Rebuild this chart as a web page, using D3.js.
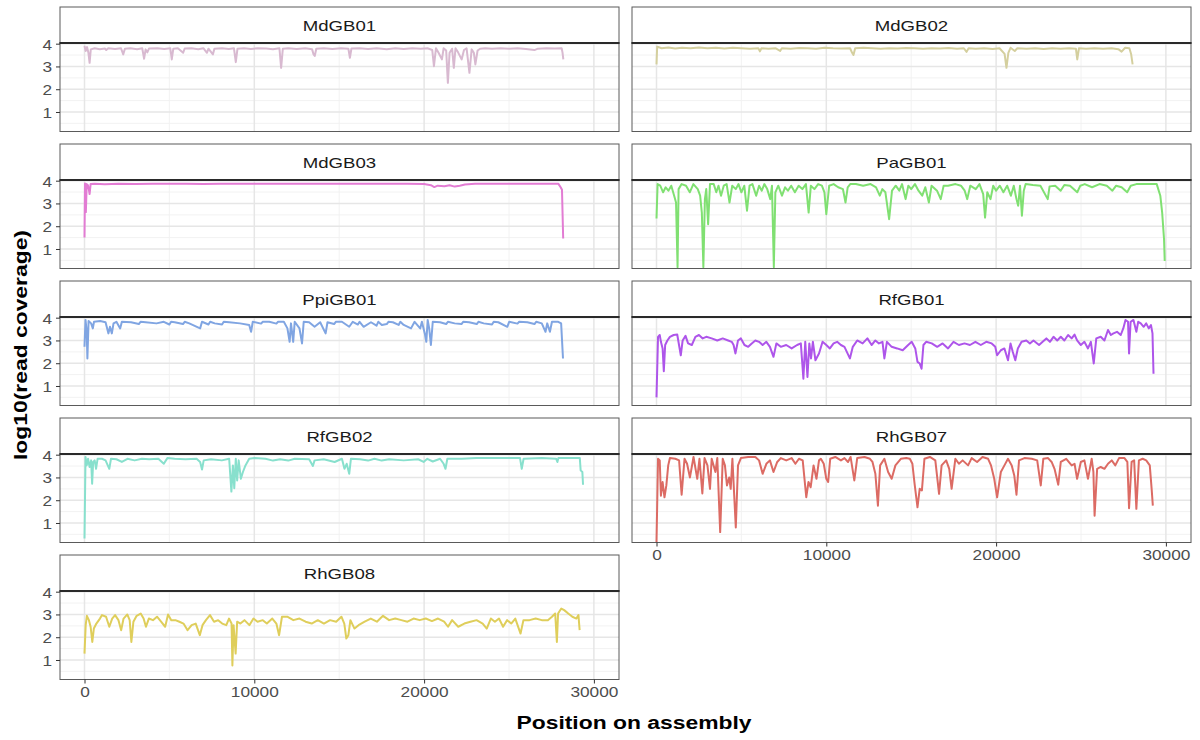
<!DOCTYPE html>
<html>
<head>
<meta charset="utf-8">
<script src="https://cdn.jsdelivr.net/npm/d3@7"></script>
<style>
  html, body { margin: 0; padding: 0; background: #ffffff; }
  svg { display: block; font-family: "Liberation Sans", Arial, Helvetica, sans-serif; }
</style>
</head>
<body>
<svg id="chart" width="1200" height="740"></svg>
<script>
// ---------------- DATA (position on assembly, log10(read coverage)) ----------------
const facetNames = ["MdGB01","MdGB02","MdGB03","PaGB01","PpiGB01","RfGB01","RfGB02","RhGB07","RhGB08"];
const facetColors = ["#D8B9D0","#D4CF9E","#E27CD3","#80E072","#80A5E2","#AE55EA","#88E0CD","#DC6B64","#DFCE5B"];
const yTicks = [1, 2, 3, 4];
const xTicks = [0, 10000, 20000, 30000];
const yMinorTicks = [0.5, 1.5, 2.5, 3.5];
const xMinorTicks = [5000, 15000, 25000];

const MdGB01 = [[0,3.9],[70,3.68],[150,3.85],[230,3.6],[300,3.16],[370,3.75],[600,3.8],[900,3.76],[1200,3.79],[1280,3.72],[1400,3.8],[1800,3.77],[2150,3.8],[2280,3.53],[2380,3.78],[2700,3.8],[3100,3.76],[3400,3.8],[3510,3.34],[3600,3.75],[3700,3.62],[3800,3.79],[4300,3.8],[4700,3.77],[5050,3.8],[5140,3.31],[5230,3.78],[5500,3.8],[5810,3.6],[5900,3.79],[6300,3.8],[6700,3.76],[7000,3.8],[7210,3.6],[7300,3.78],[7560,3.53],[7650,3.78],[8100,3.8],[8500,3.77],[8800,3.8],[8910,3.19],[9010,3.78],[9400,3.8],[9800,3.77],[10200,3.8],[10700,3.79],[11100,3.76],[11480,3.8],[11580,2.94],[11680,3.78],[12000,3.8],[12500,3.77],[13000,3.8],[13400,3.76],[13490,3.53],[13560,3.46],[13650,3.78],[14100,3.8],[14600,3.77],[15100,3.8],[15540,3.78],[15630,3.38],[15720,3.79],[16200,3.8],[16700,3.77],[17200,3.8],[17800,3.76],[18300,3.8],[18800,3.77],[19300,3.8],[19800,3.78],[20200,3.8],[20480,3.72],[20580,3.01],[20700,3.8],[20850,3.6],[21050,3.31],[21150,3.8],[21300,3.7],[21400,2.28],[21500,3.6],[21650,3.78],[21750,2.94],[21850,3.8],[22000,3.62],[22210,3.31],[22350,3.72],[22500,3.8],[22670,2.72],[22800,3.75],[22930,3.6],[23020,3.09],[23150,3.7],[23300,3.78],[23600,3.8],[24000,3.78],[24500,3.8],[25000,3.78],[25500,3.8],[26000,3.77],[26500,3.72],[26700,3.78],[27200,3.8],[27700,3.79],[28100,3.8],[28150,3.62],[28200,3.31]];

const MdGB02 = [[0,3.09],[40,3.87],[300,3.8],[700,3.83],[1100,3.79],[1500,3.82],[2000,3.8],[2500,3.83],[3000,3.8],[3500,3.82],[4000,3.79],[4500,3.82],[5000,3.8],[5500,3.78],[6000,3.8],[6090,3.66],[6180,3.8],[6600,3.78],[7000,3.8],[7280,3.68],[7380,3.8],[7900,3.78],[8400,3.81],[8900,3.8],[9400,3.78],[9900,3.82],[10400,3.8],[10900,3.79],[11400,3.8],[11520,3.6],[11600,3.5],[11700,3.8],[12200,3.82],[12700,3.8],[13200,3.78],[13700,3.8],[14200,3.79],[14700,3.81],[15200,3.8],[15700,3.78],[16200,3.8],[16700,3.79],[17200,3.81],[17700,3.78],[18100,3.8],[18260,3.64],[18380,3.8],[18800,3.78],[19300,3.8],[19800,3.77],[20200,3.8],[20500,3.55],[20610,2.94],[20720,3.6],[20850,3.82],[21100,3.68],[21250,3.8],[21800,3.78],[22300,3.8],[22800,3.77],[23300,3.8],[23800,3.78],[24300,3.8],[24700,3.78],[24780,3.31],[24880,3.8],[25300,3.78],[25800,3.8],[26300,3.78],[26800,3.8],[27200,3.76],[27390,3.65],[27600,3.82],[27850,3.8],[27950,3.55],[28040,3.09]];

const MdGB03 = [[0,1.5],[30,3.88],[80,2.62],[130,3.85],[200,3.8],[260,3.6],[300,3.41],[360,3.85],[600,3.86],[1200,3.84],[2000,3.87],[3000,3.85],[4000,3.87],[5000,3.86],[6000,3.87],[7000,3.85],[8000,3.87],[9000,3.86],[10000,3.87],[11000,3.86],[12000,3.87],[13000,3.86],[14000,3.87],[15000,3.86],[16000,3.87],[17000,3.86],[18000,3.87],[19000,3.86],[20000,3.85],[20400,3.8],[20600,3.72],[20800,3.78],[21200,3.76],[21500,3.8],[21800,3.74],[22100,3.78],[22400,3.83],[23000,3.86],[24000,3.87],[25000,3.86],[26000,3.87],[27000,3.86],[27900,3.87],[28050,3.7],[28120,3.6],[28190,1.46]];

const PaGB01 = [[0,2.34],[65,3.85],[220,3.78],[390,3.49],[540,3.71],[700,3.56],[870,3.78],[1040,3.34],[1150,3.04],[1240,0.2],[1300,3.63],[1480,3.85],[1740,3.78],[1960,3.49],[2170,3.85],[2430,3.63],[2570,3.34],[2670,2.6],[2760,0.2],[2850,3.19],[2930,3.63],[3040,2.09],[3150,3.85],[3370,3.85],[3520,3.49],[3650,3.78],[3800,3.34],[3960,3.78],[4130,3.85],[4300,3.04],[4460,3.78],[4670,3.63],[4830,3.85],[5000,3.49],[5170,3.78],[5330,2.68],[5480,3.78],[5650,3.85],[5870,3.34],[6040,3.78],[6200,3.56],[6350,3.85],[6520,3.63],[6700,3.19],[6800,3.78],[6910,0.2],[7000,3.49],[7170,3.78],[7390,3.34],[7570,3.71],[7740,3.56],[7930,3.78],[8150,3.49],[8370,3.78],[8590,3.63],[8800,3.85],[8960,2.6],[9090,3.78],[9300,3.63],[9520,3.85],[9740,3.78],[9890,3.49],[10000,2.53],[10170,3.78],[10430,3.85],[10700,3.71],[10980,3.63],[11130,3.04],[11260,3.71],[11410,3.85],[11740,3.85],[12170,3.78],[12610,3.85],[12930,3.71],[13150,3.34],[13300,3.63],[13480,3.49],[13700,2.31],[13870,3.56],[14090,3.78],[14300,3.56],[14460,3.85],[14670,3.19],[14830,3.78],[15000,3.63],[15220,3.85],[15430,3.56],[15650,3.34],[15830,3.71],[16040,3.04],[16200,3.78],[16520,3.56],[16740,3.19],[16910,3.78],[17170,3.78],[17610,3.85],[17930,3.78],[18150,3.56],[18300,3.19],[18480,3.78],[18800,3.63],[19020,3.85],[19240,3.41],[19350,2.38],[19480,3.49],[19670,3.19],[19830,3.78],[20000,3.56],[20220,3.78],[20430,3.49],[20650,3.78],[20870,3.34],[21040,3.78],[21200,3.19],[21300,2.9],[21410,3.78],[21520,2.46],[21630,3.56],[21740,3.85],[22170,3.81],[22610,3.78],[23040,3.19],[23150,3.75],[23480,3.78],[23800,3.56],[24020,3.81],[24350,3.78],[24780,3.49],[24960,3.78],[25220,3.85],[25650,3.71],[26090,3.85],[26520,3.78],[26850,3.56],[27070,3.78],[27390,3.71],[27720,3.49],[27930,3.78],[28260,3.85],[28700,3.85],[29130,3.85],[29460,3.85],[29670,3.34],[29780,2.6],[29890,1.43],[29930,0.47]];

const PpiGB01 = [[0,2.72],[60,3.9],[130,3.38],[170,2.21],[240,3.85],[390,3.75],[490,3.53],[560,3.82],[920,3.85],[1240,3.8],[1410,3.31],[1500,3.6],[1610,3.31],[1710,3.75],[1880,3.82],[2100,3.53],[2200,3.82],[2740,3.8],[3200,3.72],[3300,3.82],[3600,3.8],[4240,3.75],[4670,3.82],[5000,3.7],[5100,3.82],[5310,3.8],[5800,3.72],[5900,3.82],[6170,3.75],[6810,3.53],[6920,3.82],[7300,3.7],[7400,3.82],[7670,3.75],[8100,3.7],[8200,3.82],[8520,3.8],[9160,3.75],[9700,3.68],[9810,3.38],[9910,3.82],[10400,3.74],[10500,3.82],[10880,3.82],[11300,3.74],[11400,3.82],[11740,3.82],[11950,3.53],[12080,2.94],[12160,3.75],[12290,2.94],[12380,3.82],[12660,3.53],[12810,2.87],[12910,3.82],[13230,3.8],[13550,3.6],[13880,3.8],[14200,3.31],[14310,3.8],[14700,3.72],[14800,3.82],[15160,3.82],[15590,3.6],[15800,3.82],[16100,3.7],[16200,3.82],[16440,3.6],[16870,3.8],[17200,3.65],[17300,3.82],[17510,3.68],[17800,3.72],[17900,3.82],[18160,3.8],[18500,3.68],[18600,3.82],[18800,3.68],[19230,3.53],[19440,3.82],[19770,3.53],[19870,3.82],[20040,3.31],[20130,2.94],[20210,3.9],[20300,3.53],[20400,2.8],[20510,3.82],[20940,3.8],[21300,3.72],[21400,3.82],[21800,3.75],[22200,3.72],[22300,3.82],[22650,3.8],[23100,3.72],[23200,3.82],[23510,3.75],[24000,3.7],[24100,3.82],[24370,3.8],[24900,3.6],[25010,3.82],[25500,3.74],[25600,3.82],[26080,3.8],[26500,3.72],[26600,3.82],[26930,3.75],[27150,3.38],[27250,3.75],[27410,3.38],[27530,3.82],[27900,3.82],[28070,3.75],[28180,2.21]];

const RfGB01 = [[0,0.5],[90,3.16],[190,3.24],[260,2.94],[360,2.65],[430,1.65],[510,2.8],[640,3.0],[790,3.16],[1010,3.24],[1220,3.26],[1430,2.35],[1540,3.0],[1710,3.2],[1860,2.87],[2080,2.8],[2290,3.16],[2500,3.24],[2720,3.09],[2930,3.16],[3250,3.09],[3580,3.0],[3900,3.09],[4220,3.0],[4430,2.94],[4540,2.8],[4650,2.43],[4800,3.0],[4970,3.09],[5180,2.8],[5400,2.72],[5610,2.87],[5820,3.0],[6040,2.94],[6250,2.8],[6470,2.94],[6680,2.72],[6890,2.28],[7060,2.87],[7320,2.72],[7640,2.8],[7960,2.65],[8280,2.8],[8500,2.87],[8650,1.32],[8760,2.94],[8890,1.4],[9000,2.87],[9100,2.21],[9210,2.94],[9360,2.13],[9570,2.43],[9780,2.94],[10000,2.8],[10210,2.65],[10430,2.87],[10640,2.94],[10860,2.8],[11070,2.72],[11390,2.21],[11560,2.72],[11820,3.0],[12140,2.87],[12420,3.09],[12670,2.8],[12890,3.0],[13100,2.87],[13310,2.94],[13420,2.21],[13570,2.94],[13850,2.72],[14170,2.65],[14500,2.57],[14820,2.8],[15030,2.94],[15240,2.65],[15370,2.06],[15500,1.99],[15610,1.76],[15720,2.8],[15880,2.94],[16210,2.87],[16530,2.72],[16850,2.87],[17170,2.65],[17490,2.94],[17810,2.8],[18140,2.87],[18460,2.8],[18780,2.94],[19100,2.8],[19420,2.94],[19740,2.87],[19950,2.72],[20060,2.35],[20280,2.57],[20490,2.65],[20700,2.13],[20850,2.87],[20980,2.5],[21130,2.13],[21280,2.65],[21500,2.94],[21780,3.0],[21990,2.87],[22200,3.0],[22530,2.8],[22740,2.94],[22960,3.09],[23170,2.94],[23380,3.16],[23600,3.0],[23810,3.16],[24020,3.0],[24240,3.24],[24450,3.09],[24620,3.26],[24770,3.0],[24990,2.8],[25200,2.94],[25410,2.65],[25580,2.94],[25750,1.99],[25900,3.09],[26160,3.16],[26380,3.0],[26590,3.46],[26760,3.24],[26910,3.31],[27120,3.38],[27340,3.24],[27490,3.53],[27620,3.9],[27770,3.82],[27830,2.43],[27920,3.82],[28090,3.9],[28260,3.38],[28370,3.82],[28520,3.75],[28690,3.6],[28840,3.75],[28990,3.53],[29120,3.68],[29210,3.31],[29270,1.54]];

const RfGB02 = [[0,0.32],[60,3.9],[130,3.53],[210,3.82],[300,3.46],[390,3.75],[450,2.72],[510,3.68],[600,3.75],[680,3.38],[770,3.82],[1030,3.82],[1240,3.75],[1460,3.38],[1560,3.82],[1880,3.8],[2200,3.68],[2530,3.82],[2950,3.75],[3380,3.82],[3810,3.8],[4350,3.82],[4670,3.6],[4880,3.85],[5310,3.82],[5950,3.8],[6600,3.82],[6810,3.68],[6920,3.35],[7020,3.75],[7450,3.8],[8090,3.75],[8520,3.82],[8650,2.38],[8740,3.53],[8820,2.53],[8910,3.82],[8990,2.87],[9080,3.75],[9210,2.94],[9330,3.24],[9480,3.53],[9700,3.82],[10020,3.85],[10660,3.82],[11100,3.74],[11520,3.8],[12000,3.74],[12380,3.82],[13230,3.8],[13450,3.5],[13550,3.75],[14090,3.8],[14730,3.68],[15160,3.82],[15310,3.38],[15440,3.6],[15590,3.16],[15690,3.82],[16230,3.8],[16700,3.74],[17080,3.82],[17500,3.74],[17940,3.8],[18800,3.75],[19650,3.8],[19970,3.68],[20190,3.82],[20510,3.7],[20940,3.82],[21150,3.6],[21260,3.38],[21370,3.82],[22220,3.82],[23080,3.85],[23940,3.85],[24790,3.85],[25650,3.85],[25750,3.38],[25860,3.82],[26930,3.85],[27780,3.82],[27850,3.68],[27910,3.85],[28640,3.85],[29170,3.85],[29220,3.31],[29320,3.24],[29360,2.68]];

const RhGB07 = [[0,0.15],[90,3.82],[190,3.75],[260,2.2],[360,2.8],[470,2.13],[580,2.65],[690,3.53],[790,3.85],[1110,3.82],[1330,3.75],[1480,2.24],[1650,3.82],[1800,3.6],[1970,3.0],[2180,3.9],[2400,2.94],[2530,3.82],[2700,2.3],[2830,3.85],[3000,3.53],[3150,2.5],[3250,3.82],[3470,3.24],[3580,3.85],[3750,0.6],[3900,3.82],[4030,3.53],[4150,2.65],[4280,3.0],[4370,2.5],[4470,3.82],[4670,0.8],[4800,3.53],[4970,3.85],[5400,3.9],[5820,3.9],[6040,3.75],[6250,3.16],[6470,3.6],[6680,3.75],[6890,3.24],[7110,3.68],[7320,3.85],[7640,3.75],[7960,3.85],[8180,3.6],[8390,3.82],[8610,3.75],[8820,2.13],[8950,2.8],[9080,2.57],[9250,3.53],[9420,2.94],[9570,3.75],[9680,3.82],[9850,3.6],[10000,2.94],[10110,2.8],[10230,3.82],[10530,3.9],[10860,3.75],[11070,3.85],[11280,3.68],[11430,3.9],[11650,2.87],[11820,3.85],[12250,3.9],[12570,3.82],[12720,3.68],[12890,3.16],[13040,1.76],[13170,3.53],[13420,3.82],[13640,3.24],[13850,2.94],[14070,3.53],[14390,3.82],[14710,3.85],[14920,3.82],[15070,3.6],[15200,2.72],[15370,1.69],[15500,2.5],[15630,2.43],[15780,3.82],[16100,3.9],[16420,3.75],[16640,2.28],[16790,3.53],[17060,3.75],[17240,3.38],[17380,2.5],[17600,3.82],[17810,3.6],[18030,3.75],[18350,3.53],[18560,3.85],[18880,3.68],[19200,3.9],[19530,3.82],[19700,3.53],[19890,2.94],[20060,2.13],[20280,3.24],[20490,3.53],[20700,3.82],[20920,3.53],[21070,3.09],[21200,2.24],[21350,3.75],[21670,3.85],[22100,3.82],[22420,3.75],[22630,2.65],[22780,3.82],[23060,3.85],[23270,3.68],[23440,3.38],[23660,2.68],[23810,3.68],[24130,3.82],[24450,3.53],[24620,3.6],[24770,2.94],[24990,3.68],[25200,3.75],[25410,2.94],[25630,3.82],[25730,3.24],[25800,1.32],[25950,3.38],[26160,3.46],[26380,3.38],[26590,3.6],[26810,3.75],[27020,3.53],[27240,3.85],[27560,3.85],[27730,3.68],[27830,1.65],[27980,3.68],[28130,3.75],[28260,1.62],[28410,3.75],[28630,3.82],[28840,3.75],[29050,3.53],[29160,2.5],[29230,1.76]];

const RhGB08 = [[0,1.28],[70,2.53],[140,2.94],[260,2.75],[360,2.46],[460,1.79],[550,2.38],[700,2.6],[910,2.82],[1030,2.97],[1270,2.9],[1460,2.46],[1630,2.82],[1800,2.97],[2000,2.75],[2160,2.31],[2300,2.82],[2520,3.0],[2660,2.75],[2760,1.79],[2880,2.68],[3070,2.94],[3310,3.04],[3480,2.82],[3620,2.46],[3790,2.82],[4030,2.75],[4270,2.9],[4510,2.68],[4750,2.46],[4920,3.0],[5110,2.75],[5350,2.75],[5590,2.68],[5830,2.6],[6070,2.31],[6310,2.53],[6550,2.6],[6790,2.09],[6950,2.53],[7150,2.75],[7390,2.97],[7630,2.68],[7870,2.75],[8110,2.6],[8350,2.53],[8510,2.82],[8660,2.6],[8710,0.76],[8780,2.53],[8900,1.28],[8990,2.68],[9180,2.6],[9420,2.75],[9710,2.53],[9950,2.82],[10190,2.68],[10500,2.75],[10740,2.6],[11060,2.82],[11300,2.6],[11460,2.09],[11630,2.9],[11940,2.9],[12300,2.75],[12660,2.82],[13020,2.68],[13380,2.6],[13740,2.75],[14100,2.6],[14460,2.75],[14820,2.68],[15130,2.9],[15300,2.6],[15420,1.94],[15540,2.09],[15660,2.75],[15900,2.38],[16140,2.53],[16500,2.68],[16860,2.82],[17220,2.68],[17580,2.94],[17940,2.75],[18300,2.82],[18660,2.75],[19020,2.68],[19380,2.82],[19740,2.75],[20100,2.82],[20460,2.71],[20820,2.82],[21180,2.68],[21410,2.46],[21650,2.75],[22010,2.46],[22370,2.6],[22730,2.68],[23090,2.75],[23450,2.6],[23690,2.38],[23930,2.82],[24170,2.68],[24410,2.82],[24650,2.46],[24890,2.75],[25130,2.6],[25370,2.82],[25680,2.16],[25850,2.75],[26210,2.75],[26570,2.82],[26930,2.75],[27290,2.75],[27530,2.9],[27720,3.04],[27820,1.79],[27890,3.04],[28080,3.26],[28250,3.19],[28490,3.04],[28730,2.9],[28970,2.82],[29090,2.97],[29160,2.31]];

const seriesByFacet = [MdGB01, MdGB02, MdGB03, PaGB01, PpiGB01, RfGB01, RfGB02, RhGB07, RhGB08];

// ---------------- LAYOUT ----------------
const svg = d3.select("#chart");
const colX = [60, 632];
const rowY0 = 7, rowPitch = 137;
const panelW = 559, stripH = 36, panelH = 88.5;
const stretch = 1.24;

const x = d3.scaleLinear().domain([-1443, 31478]).range([0, panelW]);
const y = d3.scaleLinear().domain([0.143, 4.03]).range([panelH, 0]);

function widen(sel, f) {
  sel.each(function() {
    const n = this.getComputedTextLength();
    if (n > 0) {
      this.setAttribute("textLength", (n * (f || stretch)).toFixed(2));
      this.setAttribute("lengthAdjust", "spacingAndGlyphs");
    }
  });
}

const line = d3.line().x(d => x(d[0])).y(d => y(d[1]));

facetNames.forEach((name, i) => {
  const r = Math.floor(i / 2), c = i % 2;
  const g = svg.append("g").attr("transform", `translate(${colX[c]},${rowY0 + r * rowPitch})`);

  // strip
  g.append("rect").attr("x", 0).attr("y", 0).attr("width", panelW).attr("height", stripH)
    .attr("fill", "#ffffff").attr("stroke", "#5a5a5a").attr("stroke-width", 1);
  const st = g.append("text").attr("x", panelW / 2).attr("y", stripH / 2 + 5.5)
    .attr("text-anchor", "middle").attr("font-size", 15).attr("fill", "#1a1a1a").text(name);
  widen(st);

  const p = g.append("g").attr("transform", `translate(0,${stripH})`);
  const clipId = "clip" + i;
  p.append("clipPath").attr("id", clipId).append("rect")
    .attr("x", 0).attr("y", 0).attr("width", panelW).attr("height", panelH);

  // grid
  p.selectAll(".ymin").data(yMinorTicks).enter().append("line")
    .attr("x1", 0).attr("x2", panelW).attr("y1", d => y(d)).attr("y2", d => y(d))
    .attr("stroke", "#f0f0f0").attr("stroke-width", 0.9);
  p.selectAll(".xmin").data(xMinorTicks).enter().append("line")
    .attr("y1", 0).attr("y2", panelH).attr("x1", d => x(d)).attr("x2", d => x(d))
    .attr("stroke", "#f0f0f0").attr("stroke-width", 0.9);
  p.selectAll(".ymaj").data(yTicks).enter().append("line")
    .attr("x1", 0).attr("x2", panelW).attr("y1", d => y(d)).attr("y2", d => y(d))
    .attr("stroke", "#e6e6e6").attr("stroke-width", 1.5);
  p.selectAll(".xmaj").data(xTicks).enter().append("line")
    .attr("y1", 0).attr("y2", panelH).attr("x1", d => x(d)).attr("x2", d => x(d))
    .attr("stroke", "#e6e6e6").attr("stroke-width", 1.5);

  // data line
  p.append("path").datum(seriesByFacet[i])
    .attr("clip-path", `url(#${clipId})`)
    .attr("d", line).attr("fill", "none").attr("stroke", facetColors[i])
    .attr("stroke-width", 2).attr("stroke-linejoin", "round");

  // border
  p.append("rect").attr("x", 0).attr("y", 0).attr("width", panelW).attr("height", panelH)
    .attr("fill", "none").attr("stroke", "#5a5a5a").attr("stroke-width", 1);
  p.append("line").attr("x1", -0.5).attr("x2", panelW + 0.5).attr("y1", 0).attr("y2", 0)
    .attr("stroke", "#2a2a2a").attr("stroke-width", 1.8);

  // y axis (only first column)
  if (c === 0) {
    const ya = p.append("g").call(d3.axisLeft(y).tickValues(yTicks).tickSize(4).tickPadding(4).tickFormat(d3.format("d")));
    ya.select(".domain").remove();
    ya.selectAll(".tick line").attr("stroke", "#333333").attr("stroke-width", 1);
    ya.selectAll(".tick text").attr("font-size", 15).attr("fill", "#4d4d4d")
      .attr("font-family", "'Liberation Sans', Arial, sans-serif").attr("dy", "0.36em");
    widen(ya.selectAll(".tick text"), 1.15);
  }

  // x axis (bottom panel of each column)
  if (name === "RhGB08" || name === "RhGB07") {
    const xa = p.append("g").attr("transform", `translate(0,${panelH})`)
      .call(d3.axisBottom(x).tickValues(xTicks).tickSize(4).tickPadding(3).tickFormat(d3.format("d")));
    xa.select(".domain").remove();
    xa.selectAll(".tick line").attr("stroke", "#333333").attr("stroke-width", 1);
    xa.selectAll(".tick text").attr("font-size", 15).attr("fill", "#4d4d4d")
      .attr("font-family", "'Liberation Sans', Arial, sans-serif");
    widen(xa.selectAll(".tick text"), 1.15);
  }
});

// axis titles
const xt = svg.append("text").attr("x", 634).attr("y", 729).attr("text-anchor", "middle")
  .attr("font-size", 18).attr("font-weight", "bold").attr("fill", "#000000")
  .text("Position on assembly");
widen(xt, 1.27);

const yt = svg.append("text").attr("transform", "translate(27,345) rotate(-90)")
  .attr("text-anchor", "middle").attr("font-size", 18).attr("font-weight", "bold").attr("fill", "#000000")
  .text("log10(read coverage)");
widen(yt, 1.27);
</script>
</body>
</html>
